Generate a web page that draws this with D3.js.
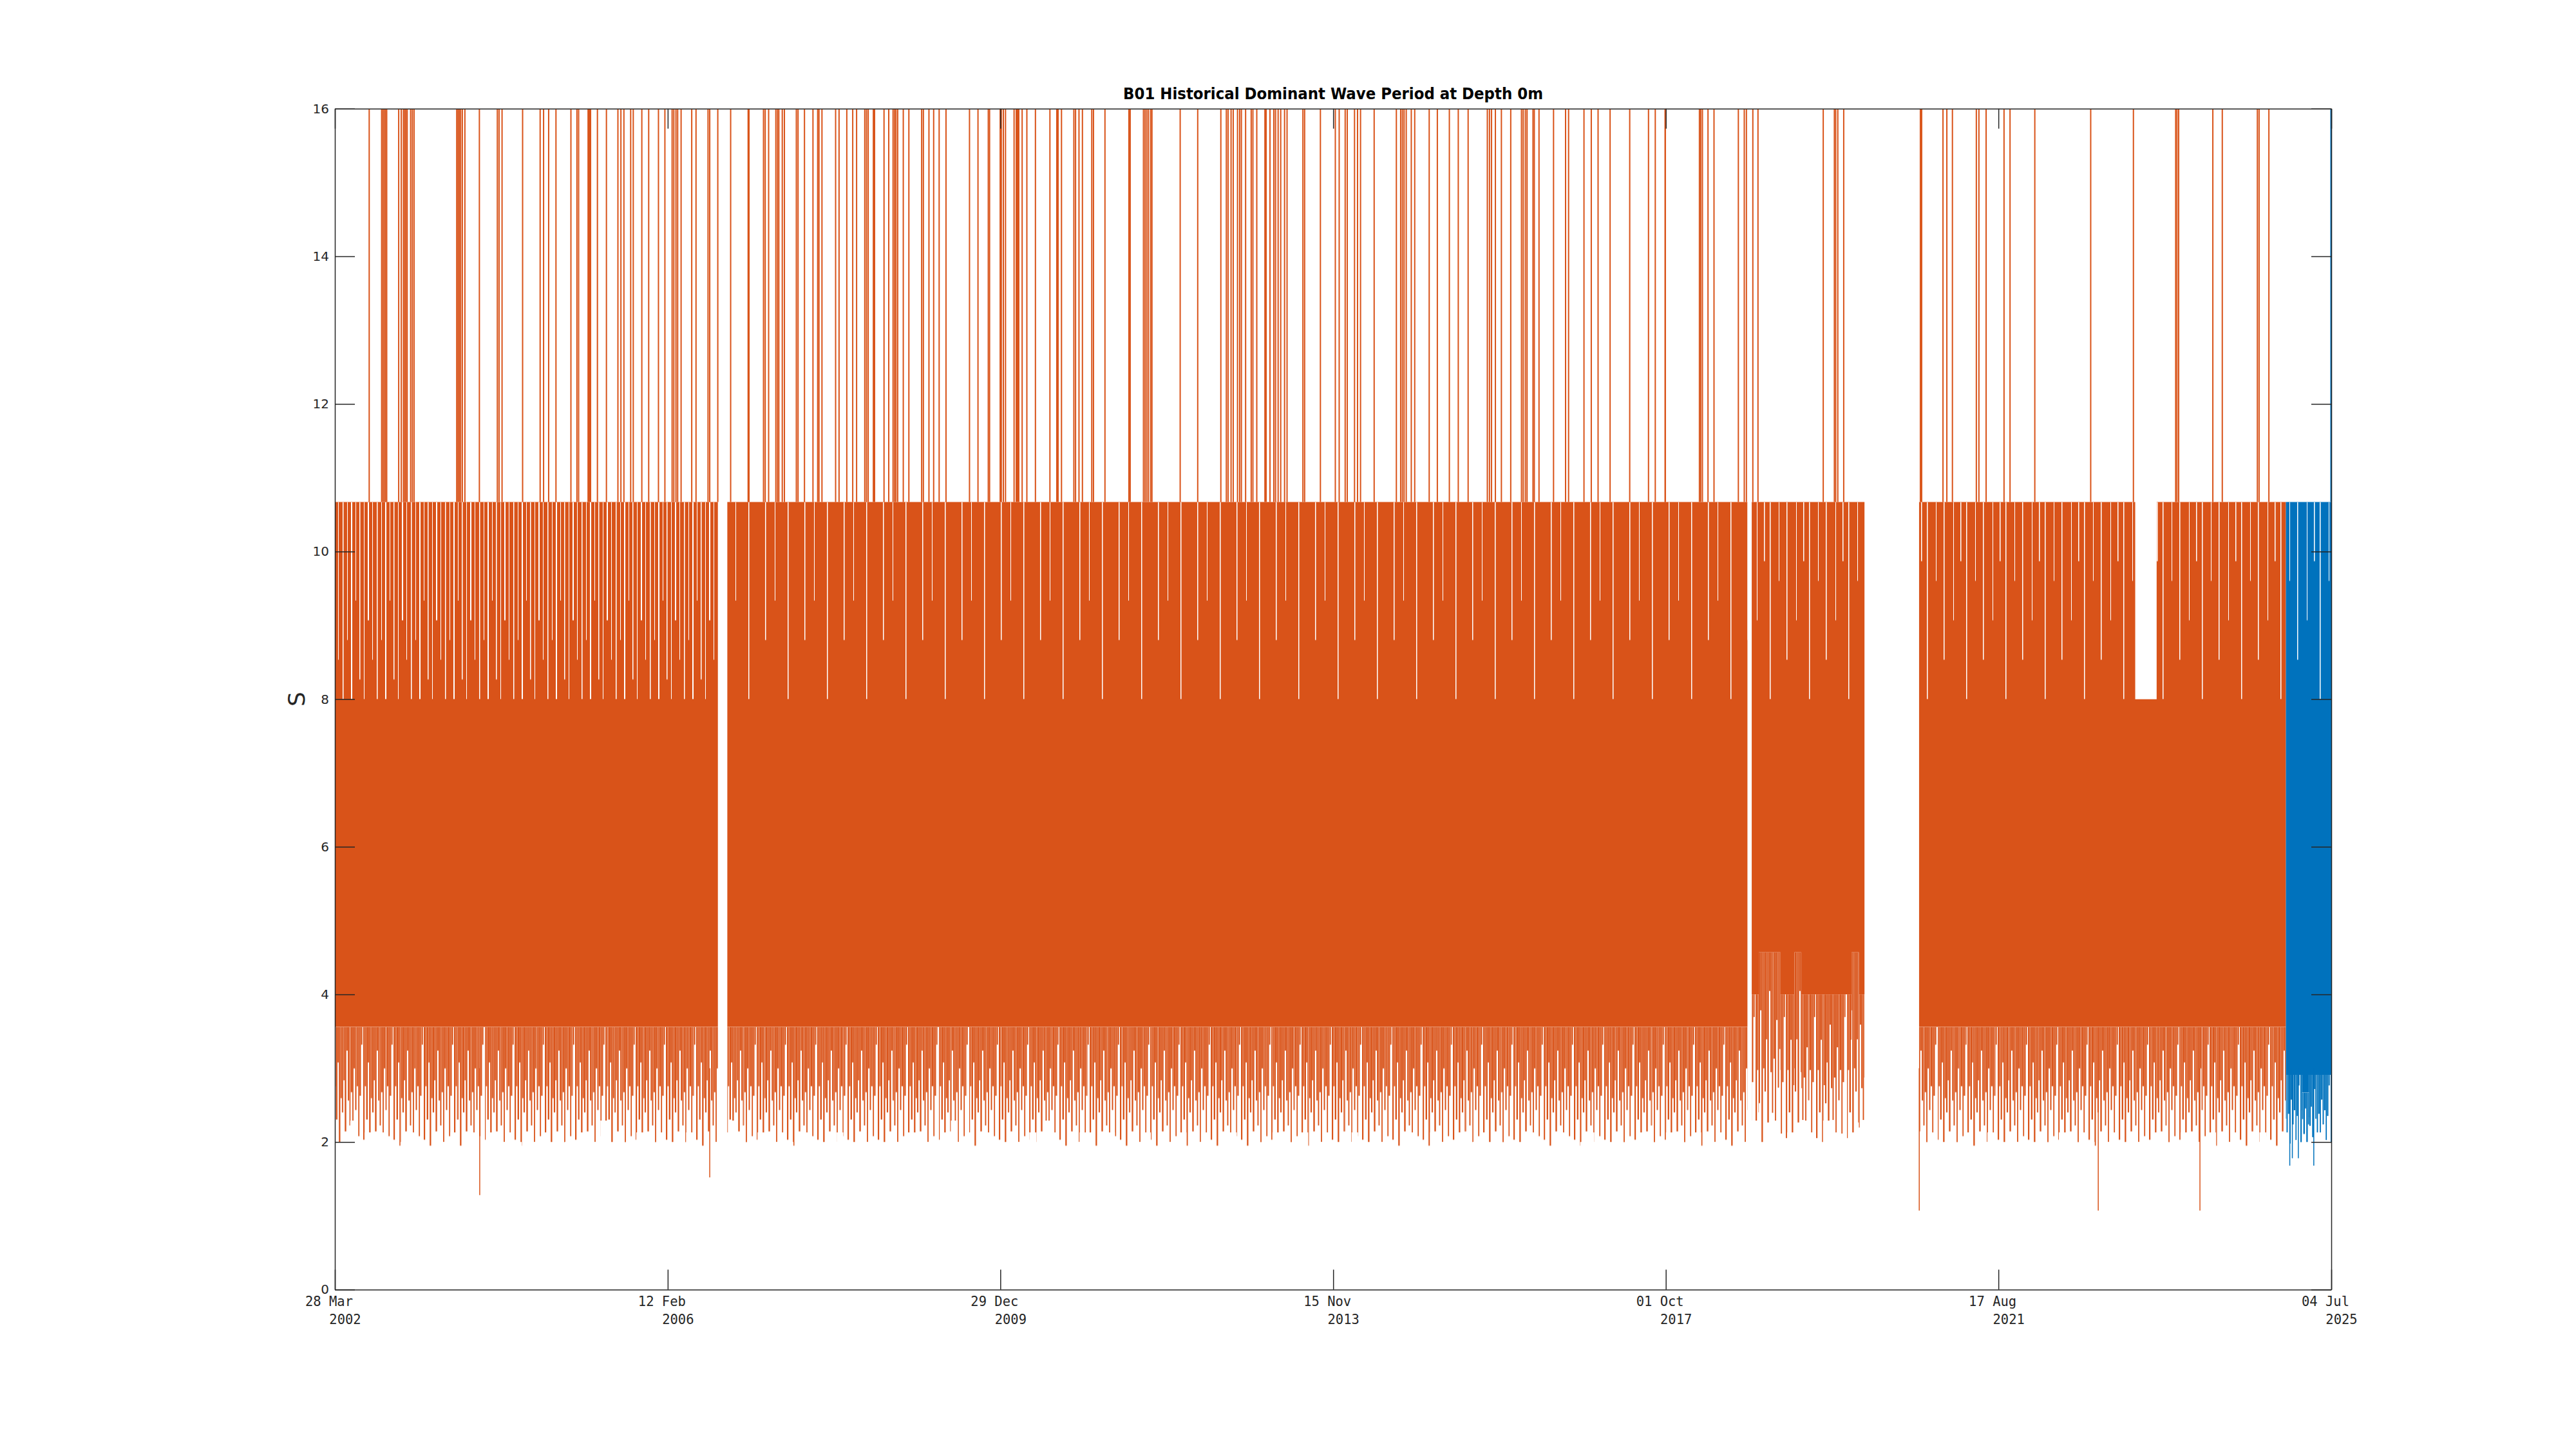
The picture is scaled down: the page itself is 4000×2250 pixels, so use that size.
<!DOCTYPE html>
<html><head><meta charset="utf-8">
<script src="https://cdn.jsdelivr.net/npm/d3@7"></script>
<style>body{margin:0;background:#fff}svg{display:block}</style>
</head><body><svg id="chart" width="4000" height="2250"></svg>
<script>
// ---------------- DATA ----------------
const titleText = "B01 Historical Dominant Wave Period at Depth 0m";
const yLabelText = "S";
const xTickDates = ["2002-03-28","2006-02-12","2009-12-29","2013-11-15","2017-10-01","2021-08-17","2025-07-04"];
const xTickDay = ["28 Mar","12 Feb","29 Dec","15 Nov","01 Oct","17 Aug","04 Jul"];
const xTickYear = ["2002","2006","2009","2013","2017","2021","2025"];
const yTicks = [0,2,4,6,8,10,12,14,16];

// periods with data (fractional years)
const orangeSegments = [[2002.2356,2006.700],[2006.810,2018.700],[2018.750,2020.065],[2020.700,2024.975]];
const blueSegments = [[2024.975,2025.507]];
const bandTop = 10.67;      // highest regular level of the band
const upperLevel = 8.0;     // next level below the band top
const clipTop = 16;         // values clipped at axis top
// short periods where the band maximum was lower
const orangeTopNotches = [[2023.22,2023.47,8.0]];

// monthly levels: solid core bottom and lowest regular value
const orangeCoreLow = {
 2002:[null,null,3.56,3.56,3.56,3.56,3.56,3.56,3.56,3.56,3.56,3.56],
 2003:[3.56,3.56,3.56,3.56,3.56,3.56,3.56,3.56,3.56,3.56,3.56,3.56],
 2004:[3.56,3.56,3.56,3.56,3.56,3.56,3.56,3.56,3.56,3.56,3.56,3.56],
 2005:[3.56,3.56,3.56,3.56,3.56,3.56,3.56,3.56,3.56,3.56,3.56,3.56],
 2006:[3.56,3.56,3.56,3.56,3.56,3.56,3.56,3.56,3.56,3.56,3.56,3.56],
 2007:[3.56,3.56,3.56,3.56,3.56,3.56,3.56,3.56,3.56,3.56,3.56,3.56],
 2008:[3.56,3.56,3.56,3.56,3.56,3.56,3.56,3.56,3.56,3.56,3.56,3.56],
 2009:[3.56,3.56,3.56,3.56,3.56,3.56,3.56,3.56,3.56,3.56,3.56,3.56],
 2010:[3.56,3.56,3.56,3.56,3.56,3.56,3.56,3.56,3.56,3.56,3.56,3.56],
 2011:[3.56,3.56,3.56,3.56,3.56,3.56,3.56,3.56,3.56,3.56,3.56,3.56],
 2012:[3.56,3.56,3.56,3.56,3.56,3.56,3.56,3.56,3.56,3.56,3.56,3.56],
 2013:[3.56,3.56,3.56,3.56,3.56,3.56,3.56,3.56,3.56,3.56,3.56,3.56],
 2014:[3.56,3.56,3.56,3.56,3.56,3.56,3.56,3.56,3.56,3.56,3.56,3.56],
 2015:[3.56,3.56,3.56,3.56,3.56,3.56,3.56,3.56,3.56,3.56,3.56,3.56],
 2016:[3.56,3.56,3.56,3.56,3.56,3.56,3.56,3.56,3.56,3.56,3.56,3.56],
 2017:[3.56,3.56,3.56,3.56,3.56,3.56,3.56,3.56,3.56,3.56,3.56,3.56],
 2018:[3.56,3.56,3.56,3.56,3.56,3.56,3.56,3.56,3.56,4.0,4.57,4.57],
 2019:[4.57,4.0,4.0,4.57,4.0,4.0,4.0,4.0,4.0,4.0,4.0,4.57],
 2020:[4.0,4.0,null,null,null,null,null,null,3.56,3.56,3.56,3.56],
 2021:[3.56,3.56,3.56,3.56,3.56,3.56,3.56,3.56,3.56,3.56,3.56,3.56],
 2022:[3.56,3.56,3.56,3.56,3.56,3.56,3.56,3.56,3.56,3.56,3.56,3.56],
 2023:[3.56,3.56,3.56,3.56,3.56,3.56,3.56,3.56,3.56,3.56,3.56,3.56],
 2024:[3.56,3.56,3.56,3.56,3.56,3.56,3.56,3.56,3.56,3.56,3.56,3.56]
};
const orangeFringeLow = {
 2002:[null,null,2.13,2.0,2.13,2.29,2.0,2.13,1.88,2.13,2.0,1.88],
 2003:[2.0,2.13,1.88,2.0,1.78,1.88,2.0,2.13,1.88,2.0,2.13,1.88],
 2004:[2.13,1.88,2.0,2.13,2.0,1.88,2.0,1.78,2.13,2.0,1.88,2.0],
 2005:[2.0,2.13,1.88,2.0,2.29,2.0,2.13,1.88,2.0,2.13,2.0,1.88],
 2006:[2.13,2.0,2.0,1.88,2.13,2.0,1.88,2.13,2.0,2.13,2.29,2.0],
 2007:[1.88,2.0,2.13,1.88,2.0,2.13,2.0,1.88,2.13,2.0,1.88,2.0],
 2008:[2.0,2.13,1.88,2.0,2.13,2.0,1.88,2.0,2.13,2.0,1.88,2.13],
 2009:[2.13,2.0,1.88,2.0,2.13,2.29,2.0,2.13,1.88,2.0,2.13,2.0],
 2010:[2.0,2.13,2.0,1.88,2.13,2.0,2.29,2.13,2.0,1.88,2.0,2.13],
 2011:[2.13,1.88,2.0,2.13,2.0,1.88,2.13,2.0,2.13,1.88,2.0,2.0],
 2012:[2.0,2.13,1.88,2.0,2.13,2.0,1.88,2.0,2.13,2.0,1.88,2.13],
 2013:[1.88,2.0,2.13,2.0,1.78,2.0,2.13,1.88,2.0,2.13,1.78,2.0],
 2014:[2.0,2.13,1.88,2.0,2.13,2.0,1.88,1.78,2.0,2.13,2.0,1.88],
 2015:[2.13,2.0,1.88,2.0,2.13,1.88,2.0,2.13,2.0,1.88,1.78,2.0],
 2016:[2.0,1.88,2.13,2.0,1.88,2.0,2.13,2.0,1.88,2.0,2.13,2.0],
 2017:[1.88,2.0,2.13,1.88,2.0,2.13,2.0,1.88,2.0,2.13,2.0,1.88],
 2018:[2.0,2.13,1.88,2.0,2.13,2.0,1.88,2.13,2.0,2.29,2.0,2.13],
 2019:[2.29,2.0,2.13,1.88,2.29,2.13,2.0,2.29,2.13,2.0,1.88,2.13],
 2020:[2.13,2.0,null,null,null,null,null,null,2.0,1.88,2.13,2.0],
 2021:[2.13,1.88,2.0,2.13,1.78,2.0,2.13,1.88,2.0,2.13,2.0,1.88],
 2022:[2.0,2.13,1.88,2.0,2.13,2.0,1.88,2.13,2.0,1.88,2.0,2.13],
 2023:[1.88,2.0,2.13,2.0,1.88,2.13,2.0,1.88,2.0,2.13,1.88,2.0],
 2024:[2.0,2.13,1.88,2.0,2.13,2.0,1.88,2.0,2.13,2.0,1.88,2.13]
};
const blueCoreLow = {2024:[null,null,null,null,null,null,null,null,null,null,null,2.91], 2025:[2.91,2.91,2.67,2.91,2.91,2.91,2.91,null,null,null,null,null]};
const blueFringeLow = {2024:[null,null,null,null,null,null,null,null,null,null,null,2.13], 2025:[1.68,1.78,2.0,1.88,2.13,2.0,1.88,null,null,null,null,null]};

// dates (fractional years) where the series jumped above the plot top
const orangeSpikes = [2002.636,2002.781,2002.796,2002.811,2002.826,2002.840,2002.980,2003.010,2003.035,2003.050,2003.064,2003.079,2003.119,2003.139,2003.159,
 2003.657,2003.672,2003.687,2003.702,2003.722,2003.752,2003.921,2004.130,2004.150,2004.185,2004.424,2004.628,2004.668,2004.727,2004.812,2004.986,
 2005.056,2005.076,2005.186,2005.200,2005.215,2005.295,2005.400,2005.534,2005.569,2005.604,2005.683,2005.713,2005.813,2005.893,2006.007,2006.082,
 2006.166,2006.186,2006.211,2006.231,2006.271,2006.395,2006.445,2006.585,2006.605,2006.699,2006.849,2007.053,2007.063,2007.232,2007.252,2007.292,
 2007.376,2007.396,2007.411,2007.451,2007.476,2007.615,2007.635,2007.710,2007.809,2007.864,2007.879,2007.914,2008.073,2008.113,2008.203,2008.272,
 2008.317,2008.412,2008.432,2008.452,2008.512,2008.526,2008.636,2008.691,2008.741,2008.760,2008.775,2008.795,2008.860,2008.925,2009.074,2009.094,
 2009.159,2009.214,2009.278,2009.358,2009.632,2009.731,2009.851,2009.866,2009.990,
 2010.003,2010.027,2010.052,2010.152,2010.177,2010.192,2010.207,2010.246,2010.301,2010.401,2010.570,2010.650,2010.665,2010.705,2010.849,2010.869,
 2010.909,2010.949,2011.058,2011.078,2011.212,2011.491,2011.506,2011.661,2011.680,2011.700,2011.720,2011.745,2011.760,2012.089,2012.293,2012.562,
 2012.626,2012.646,2012.681,2012.706,2012.756,2012.781,2012.801,2012.850,2012.915,2012.935,2012.980,2013.075,2013.089,2013.134,2013.179,2013.199,
 2013.229,2013.259,2013.304,2013.333,2013.518,2013.538,2013.722,2013.896,2013.941,2014.011,2014.035,2014.120,2014.155,2014.190,2014.349,2014.608,
 2014.658,2014.678,2014.698,2014.723,2014.782,2014.822,2014.991,2015.086,2015.226,2015.330,2015.445,2015.669,2015.694,2015.718,2015.763,2015.833,
 2015.942,2016.067,2016.087,2016.112,2016.132,2016.201,2016.216,2016.271,2016.440,2016.580,2016.615,2016.794,2016.879,2016.958,2017.098,2017.327,
 2017.546,2017.625,2017.740,2017.742,2018.140,2018.155,2018.175,2018.240,2018.310,2018.594,2018.663,2018.688,2018.763,2018.823,2019.584,2019.714,
 2019.729,2019.754,2019.823,2020.715,2020.730,2020.978,2021.023,2021.088,2021.367,2021.397,2021.481,2021.690,2021.760,2022.049,2022.701,2023.199,
 2023.692,2023.707,2023.727,2024.125,2024.235,2024.643,2024.663,2024.777];
const blueSpikes = [2025.500];
// isolated deep minima [date, value]
const orangeOutliers = [[2003.925,1.28],[2006.605,1.52],[2020.702,1.07],[2022.789,1.07],[2023.975,1.07]];
const blueOutliers = [[2025.02,1.68],[2025.05,1.78],[2025.12,1.78],[2025.30,1.68]];

// ---------------- CHART ----------------
const plot = {left: 520, right: 3620, top: 168.75, bottom: 2002.5};
const colors = {orange: "#D95319", blue: "#0072BD", axis: "#262626"};
const combFloor = 1.95;   // visual reach of the comb texture

const toDate = fy => { const yr = Math.floor(fy); const a = Date.UTC(yr,0,1), b = Date.UTC(yr+1,0,1); return new Date(a + (fy-yr)*(b-a)); };
const parse = s => new Date(s + "T00:00:00Z");

const x = d3.scaleUtc().domain([parse(xTickDates[0]), parse(xTickDates[xTickDates.length-1])]).range([plot.left, plot.right]);
const y = d3.scaleLinear().domain([0,16]).range([plot.bottom, plot.top]);

const svg = d3.select("#chart");
const defs = svg.append("defs");
defs.append("clipPath").attr("id","plotClip").append("rect")
  .attr("x",plot.left).attr("y",plot.top).attr("width",plot.right-plot.left).attr("height",plot.bottom-plot.top);

// texture styles: [x offset, width, relative length]
const combStripes = [[0,2.2,0.95],[2.4,2,0.5],[4.6,2.4,0.78],[7.2,1.8,0.3],[9.2,2.3,1.0],[11.7,2,0.6],[13.9,2.2,0.72],[16.3,1.8,0.45],
  [18.3,2.4,0.88],[20.9,2,0.2],[23.1,2.2,0.62],[25.5,1.9,0.83],[27.6,2.3,0.55],[30.1,1.8,0.97],[32.1,2.2,0.35],[34.5,2,0.7],
  [36.7,2.4,0.5],[39.3,1.8,0.92],[41.3,2.2,0.58],[43.7,2,0.15]];
const combTile = 47;
const gapStyles = {
  dense:  {tile:53, stripes:[[2,1.5,1.0],[9,1,0.7],[15,2,1.0],[22,1,0.5],[28,1.5,0.9],[35,1,1.0],[41,2,0.6],[48,1,0.8]]},
  medium: {tile:61, stripes:[[3,1.5,1.0],[17,1,0.4],[29,1.5,0.8],[44,1,0.6],[55,1.5,0.3]]},
  light:  {tile:61, stripes:[[3,1.5,1.0],[29,1.5,0.7],[44,1,0.5]]}
};
const orangeSegmentTexture = ["dense","light","medium","medium"];
const blueSegmentTexture = ["medium"];

const patternCache = {};
function combPattern(color, cl){
  const id = `comb_${color.slice(1)}_${String(cl).replace(".","_")}`;
  if (patternCache[id]) return id;
  patternCache[id] = true;
  const top = y(cl), depth = y(combFloor) - y(cl);
  const p = defs.append("pattern").attr("id",id).attr("patternUnits","userSpaceOnUse")
    .attr("x",0).attr("y",top).attr("width",combTile).attr("height",1000);
  combStripes.forEach(([px,w,f]) => p.append("rect").attr("x",px).attr("y",0).attr("width",w).attr("height",f*depth).attr("fill",color));
  return id;
}
Object.entries(gapStyles).forEach(([name, st]) => {
  const top = y(bandTop), depth = y(upperLevel) - y(bandTop);
  const p = defs.append("pattern").attr("id","gaps_"+name).attr("patternUnits","userSpaceOnUse")
    .attr("x",0).attr("y",top).attr("width",st.tile).attr("height",1500);
  st.stripes.forEach(([px,w,f]) => p.append("rect").attr("x",px).attr("y",0).attr("width",w).attr("height",f*depth).attr("fill","#fff"));
});

function buildBins(segments, core, fringe, notches){
  const out = [];
  segments.forEach(([s,e], si) => {
    const S = toDate(s), E = toDate(e);
    let b = [S, ...d3.utcMonth.range(d3.utcMonth.ceil(S), E)];
    notches.forEach(([ns,ne]) => { [toDate(ns),toDate(ne)].forEach(d => { if (d > S && d < E) b.push(d); }); });
    b.push(E);
    b = Array.from(new Set(b.map(Number))).sort((p,q)=>p-q).map(v=>new Date(v));
    const bins = [];
    for (let i=0;i<b.length-1;i++){
      const mid = new Date((+b[i] + +b[i+1])/2);
      const yr = mid.getUTCFullYear(), m = mid.getUTCMonth();
      if (!core[yr] || core[yr][m]==null) continue;
      let top = bandTop;
      notches.forEach(([ns,ne,lv]) => { if (mid >= toDate(ns) && mid <= toDate(ne)) top = lv; });
      bins.push({a:b[i], b:b[i+1], top, cl:core[yr][m], fl:fringe[yr][m]});
    }
    if (bins.length) out.push({si, bins});
  });
  return out;
}

const g = svg.append("g").attr("clip-path","url(#plotClip)");

function drawSeries(segments, core, fringe, notches, spikes, outliers, color, textures){
  const segBins = buildBins(segments, core, fringe, notches);
  const sg = g.append("g");
  segBins.forEach(({si, bins}) => {
    const pts = bins.concat([{...bins[bins.length-1], a: bins[bins.length-1].b}]);
    sg.append("path").datum(pts).attr("fill", color)
      .attr("d", d3.area().curve(d3.curveStepAfter).x(d=>x(d.a)).y0(d=>y(d.cl)).y1(d=>y(d.top)));
    sg.append("path").datum(pts).attr("fill", `url(#gaps_${textures[si]})`)
      .attr("d", d3.area().curve(d3.curveStepAfter).x(d=>x(d.a)).y0(d=>y(Math.min(d.top,upperLevel))).y1(d=>y(d.top)));
    sg.selectAll(null).data(bins).enter().append("rect")
      .attr("x", d=>x(d.a)).attr("width", d=>Math.max(0, x(d.b)-x(d.a)))
      .attr("y", d=>y(d.cl)).attr("height", d=>y(d.fl)-y(d.cl))
      .attr("fill", d=>`url(#${combPattern(color, d.cl)})`);
  });
  sg.selectAll(null).data(spikes).enter().append("line")
    .attr("x1", d=>x(toDate(d))).attr("x2", d=>x(toDate(d)))
    .attr("y1", y(bandTop)).attr("y2", y(clipTop))
    .attr("stroke", color).attr("stroke-width", 2);
  sg.selectAll(null).data(outliers).enter().append("line")
    .attr("x1", d=>x(toDate(d[0]))).attr("x2", d=>x(toDate(d[0])))
    .attr("y1", y(3.0)).attr("y2", d=>y(d[1]))
    .attr("stroke", color).attr("stroke-width", 1.5);
}
drawSeries(orangeSegments, orangeCoreLow, orangeFringeLow, orangeTopNotches, orangeSpikes, orangeOutliers, colors.orange, orangeSegmentTexture);
drawSeries(blueSegments, blueCoreLow, blueFringeLow, [], blueSpikes, blueOutliers, colors.blue, blueSegmentTexture);

// ---------------- AXES ----------------
const tickLen = 31;
const axStyle = sel => { sel.selectAll("path,line").attr("stroke", colors.axis).attr("stroke-width", 1.5); };
const xTicks = xTickDates.map(parse);

svg.append("g").attr("transform",`translate(0,${plot.bottom})`)
  .call(d3.axisBottom(x).tickValues(xTicks).tickSize(-tickLen).tickSizeOuter(0).tickFormat(""))
  .call(axStyle);
svg.append("g").attr("transform",`translate(0,${plot.top})`)
  .call(d3.axisTop(x).tickValues(xTicks).tickSize(-tickLen).tickSizeOuter(0).tickFormat(""))
  .call(axStyle);
svg.append("g").attr("transform",`translate(${plot.left},0)`)
  .call(d3.axisLeft(y).tickValues(yTicks).tickSize(-tickLen).tickSizeOuter(0).tickPadding(9).tickFormat(d3.format("d")))
  .call(axStyle)
  .call(a => a.selectAll("text").attr("font-family","'DejaVu Sans', sans-serif").attr("font-size",20).attr("fill",colors.axis));
svg.append("g").attr("transform",`translate(${plot.right},0)`)
  .call(d3.axisRight(y).tickValues(yTicks).tickSize(-tickLen).tickSizeOuter(0).tickFormat(""))
  .call(axStyle);

const xl = svg.append("g").attr("font-family","'DejaVu Sans Mono', monospace").attr("font-size",20.5).attr("fill",colors.axis).attr("text-anchor","middle");
xl.selectAll(null).data(xTicks).enter().append("text")
  .attr("x", d=>x(d)-9).attr("y", plot.bottom+25).text((d,i)=>xTickDay[i]);
xl.selectAll(null).data(xTicks).enter().append("text")
  .attr("x", d=>x(d)+16).attr("y", plot.bottom+53).text((d,i)=>xTickYear[i]);

svg.append("text").attr("x",(plot.left+plot.right)/2).attr("y",154)
  .attr("text-anchor","middle").attr("font-family","'DejaVu Sans', sans-serif").attr("font-weight","bold")
  .attr("font-size",24).attr("fill","#000").attr("textLength",652).attr("lengthAdjust","spacingAndGlyphs")
  .text(titleText);
svg.append("text").attr("transform",`translate(473,${(plot.top+plot.bottom)/2}) rotate(-90)`)
  .attr("text-anchor","middle").attr("font-family","'DejaVu Sans', sans-serif")
  .attr("font-size",36).attr("fill",colors.axis).text(yLabelText);
</script></body></html>
